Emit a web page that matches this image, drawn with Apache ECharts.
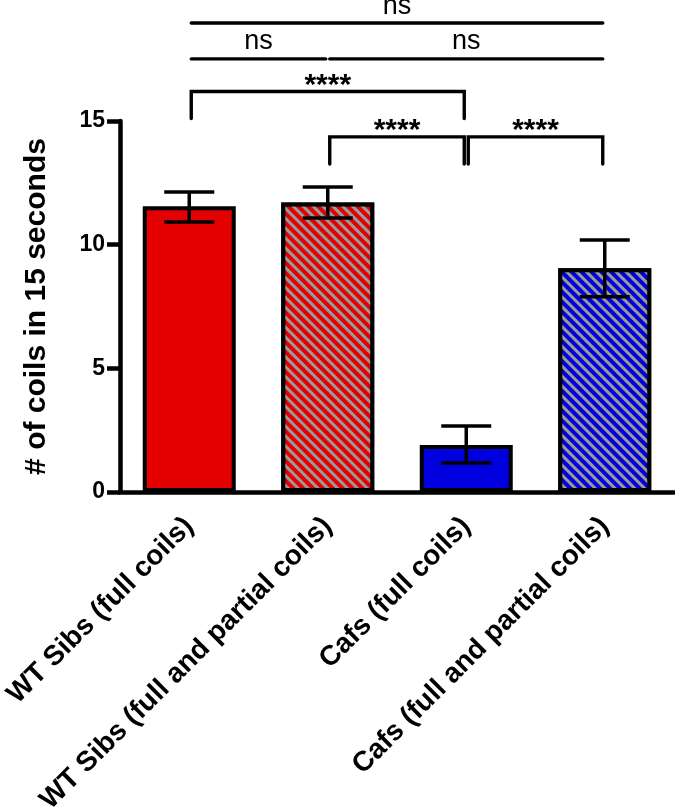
<!DOCTYPE html>
<html>
<head>
<meta charset="utf-8">
<script src="https://cdn.jsdelivr.net/npm/echarts@6/dist/echarts.min.js"></script>
<style>html,body{margin:0;padding:0;background:#fff;}#chart{width:675px;height:810px;}</style>
</head>
<body>
<div id="chart"></div>
<script>
// ---- data ----
const categories = ['WT Sibs (full coils)', 'WT Sibs (full and partial coils)', 'Cafs (full coils)', 'Cafs (full and partial coils)'];
const means = [11.55, 11.7, 1.9, 9.05];
const errLow = [10.92, 11.08, 1.17, 7.89];
const errHigh = [12.13, 12.33, 2.67, 10.19];
const yTicks = [0, 5, 10, 15];
const sigFrom = [0, 0, 1, 0, 1, 2];
const sigTo = [3, 1, 3, 2, 2, 3];
const sigLevel = [18.96, 17.51, 17.51, 16.19, 14.36, 14.36];
const sigLegEnd = [18.96, 17.51, 17.51, 15.1, 13.26, 13.26];
const sigLabels = ['ns', 'ns', 'ns', '****', '****', '****'];

// ---- styles ----
const FONT = '"Liberation Sans", Arial, Helvetica, sans-serif';
const RED = '#e20000', BLUE = '#0000de', STRIPE = '#9a9a9a';
const fills = [RED, RED, BLUE, BLUE];
const hatchIdx = [1, 3];

const chart = echarts.init(document.getElementById('chart'), null, {renderer: 'canvas'});

const barData = means.map((v, i) => {
  const item = {
    value: v,
    itemStyle: { color: fills[i], borderColor: '#000', borderWidth: 4 }
  };
  if (hatchIdx.indexOf(i) >= 0) {
    item.itemStyle.decal = {
      symbol: 'rect', symbolSize: 1,
      dashArrayX: [1, 0], dashArrayY: [2.4, 4],
      rotation: Math.PI / 4, color: STRIPE
    };
  }
  return item;
});

const option = {
  animation: false,
  backgroundColor: '#fff',
  grid: { left: 120, right: 1, top: 121, bottom: 318, containLabel: false, outerBoundsMode: 'none' },
  xAxis: {
    type: 'category',
    data: categories,
    axisLine: { lineStyle: { color: '#000', width: 4.5 } },
    axisTick: { alignWithLabel: true, length: 14, lineStyle: { color: '#000', width: 4.5 } },
    axisLabel: { interval: 0, rotate: 45, margin: 30, color: '#000', fontFamily: FONT, fontWeight: 'bold', fontSize: 28 }
  },
  yAxis: {
    type: 'value', min: 0, max: 15, interval: 5,
    name: '# of coils in 15 seconds', nameLocation: 'middle', nameRotate: 90, nameGap: 68,
    nameTextStyle: { color: '#000', fontFamily: FONT, fontWeight: 'bold', fontSize: 30 },
    axisLine: { show: true, lineStyle: { color: '#000', width: 4.5 } },
    axisTick: { show: true, length: 13, lineStyle: { color: '#000', width: 4.5 } },
    splitLine: { show: false },
    axisLabel: { margin: 15, color: '#000', fontFamily: FONT, fontWeight: 'bold', fontSize: 23,
      formatter: v => (yTicks.indexOf(v) >= 0 ? String(v) : '') }
  },
  series: [
    { type: 'bar', data: barData, barWidth: 93, z: 2 },
    {
      type: 'custom', z: 5, clip: false,
      data: means.map((m, i) => [i, errLow[i], errHigh[i]]),
      encode: { x: 0, y: [1, 2] },
      renderItem: (params, api) => {
        const i = api.value(0);
        const lo = api.coord([i, api.value(1)]);
        const hi = api.coord([i, api.value(2)]);
        const hw = 25;
        const st = { stroke: '#000', lineWidth: 3.5 };
        return { type: 'group', children: [
          { type: 'line', shape: { x1: lo[0], y1: lo[1], x2: hi[0], y2: hi[1] }, style: st },
          { type: 'line', shape: { x1: lo[0] - hw, y1: lo[1], x2: lo[0] + hw, y2: lo[1] }, style: st },
          { type: 'line', shape: { x1: hi[0] - hw, y1: hi[1], x2: hi[0] + hw, y2: hi[1] }, style: st }
        ]};
      }
    },
    {
      type: 'custom', z: 5, clip: false,
      data: sigFrom.map((f, i) => [f, sigTo[i], sigLevel[i], sigLegEnd[i]]),
      encode: { x: [0, 1], y: [2, 3] },
      renderItem: (params, api) => {
        const idx = params.dataIndex;
        const a = api.coord([api.value(0), api.value(2)]);
        const b = api.coord([api.value(1), api.value(2)]);
        const legA = api.coord([api.value(0), api.value(3)]);
        const x1 = a[0] + 2, x2 = b[0] - 2, y = a[1], yl = legA[1];
        const lab = sigLabels[idx];
        const isStar = lab.indexOf('*') >= 0;
        const pts = yl !== y ? [[x1, yl], [x1, y], [x2, y], [x2, yl]] : [[x1, y], [x2, y]];
        return { type: 'group', children: [
          { type: 'polyline', shape: { points: pts },
            style: { stroke: '#000', lineWidth: 3.4, fill: null, lineCap: 'round', lineJoin: 'miter' } },
          { type: 'text', style: { text: lab, x: (x1 + x2) / 2, y: isStar ? y - 6 : y - 17,
              align: 'center', verticalAlign: 'middle', fill: '#000',
              font: (isStar ? 'bold 30px ' : '27px ') + FONT } }
        ]};
      }
    }
  ]
};
chart.setOption(option);
</script>
</body>
</html>
